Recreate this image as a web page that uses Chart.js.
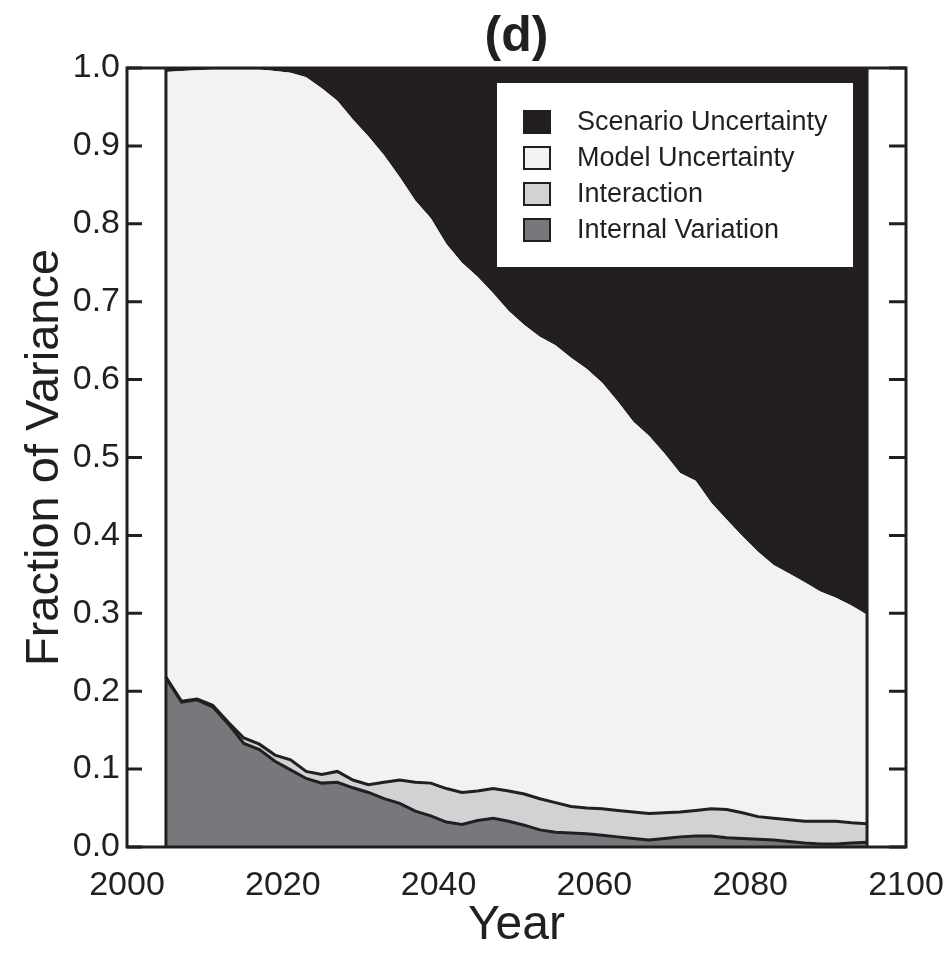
<!DOCTYPE html>
<html>
<head>
<meta charset="utf-8">
<script src="https://cdn.jsdelivr.net/npm/chart.js@4.4.1/dist/chart.umd.min.js"></script>
<style>
  html, body { margin: 0; padding: 0; background: #fff; }
</style>
</head>
<body>
<canvas id="varianceChart" width="949" height="955"></canvas>
<script>
// Years (every 2 years)
const years = [2005, 2007, 2009, 2011, 2013, 2015, 2017, 2019, 2021, 2023,
    2025, 2027, 2029, 2031, 2033, 2035, 2037, 2039, 2041, 2043,
    2045, 2047, 2049, 2051, 2053, 2055, 2057, 2059, 2061, 2063,
    2065, 2067, 2069, 2071, 2073, 2075, 2077, 2079, 2081, 2083,
    2085, 2087, 2089, 2091, 2093, 2095];

// Fraction of variance for each source (stacked bottom to top)
const internalVariation = [0.217, 0.186, 0.189, 0.180, 0.158, 0.133, 0.125, 0.110, 0.099, 0.088,
    0.082, 0.083, 0.076, 0.070, 0.062, 0.056, 0.046, 0.040, 0.032, 0.029,
    0.034, 0.037, 0.033, 0.028, 0.022, 0.019, 0.018, 0.017, 0.015, 0.013,
    0.011, 0.009, 0.011, 0.013, 0.014, 0.014, 0.012, 0.011, 0.010, 0.009,
    0.007, 0.005, 0.004, 0.004, 0.005, 0.006];

const interaction = [0.001, 0.001, 0.001, 0.002, 0.002, 0.007, 0.007, 0.008, 0.013, 0.009,
    0.011, 0.014, 0.010, 0.010, 0.021, 0.030, 0.037, 0.042, 0.043, 0.041,
    0.038, 0.038, 0.039, 0.040, 0.040, 0.038, 0.034, 0.033, 0.034, 0.034,
    0.034, 0.034, 0.033, 0.032, 0.033, 0.035, 0.036, 0.033, 0.029, 0.028,
    0.028, 0.028, 0.029, 0.029, 0.026, 0.024];

const modelUncertainty = [0.777, 0.809, 0.807, 0.816, 0.838, 0.858, 0.866, 0.878, 0.882, 0.891,
    0.881, 0.861, 0.848, 0.832, 0.805, 0.774, 0.747, 0.725, 0.699, 0.680,
    0.660, 0.636, 0.616, 0.602, 0.593, 0.587, 0.576, 0.564, 0.547, 0.525,
    0.501, 0.485, 0.461, 0.435, 0.423, 0.393, 0.372, 0.355, 0.340, 0.325,
    0.316, 0.307, 0.295, 0.287, 0.279, 0.268];

const scenarioUncertainty = [0.005, 0.004, 0.003, 0.002, 0.002, 0.002, 0.002, 0.004, 0.006, 0.012,
    0.026, 0.042, 0.066, 0.088, 0.112, 0.140, 0.170, 0.193, 0.226, 0.250,
    0.268, 0.289, 0.312, 0.330, 0.345, 0.356, 0.372, 0.386, 0.404, 0.428,
    0.454, 0.472, 0.495, 0.520, 0.530, 0.558, 0.580, 0.601, 0.621, 0.638,
    0.649, 0.660, 0.672, 0.680, 0.690, 0.702];

const ink = '#231f20';
const fontFamily = "'Liberation Sans', Arial, Helvetica, sans-serif";

Chart.defaults.font.family = fontFamily;
Chart.defaults.color = ink;

function toPoints(values) {
    return values.map((v, i) => ({ x: years[i], y: v }));
}

// Box, inward ticks, period edges and the legend inside the plot
const framePlugin = {
    id: 'frame',
    afterDatasetsDraw(chart) {
        const { ctx, chartArea: a, scales: { x, y } } = chart;
        ctx.save();
        ctx.strokeStyle = ink;
        ctx.lineWidth = 3;

        [years[0], years[years.length - 1]].forEach(yr => {
            const px = x.getPixelForValue(yr);
            ctx.beginPath();
            ctx.moveTo(px, a.bottom);
            ctx.lineTo(px, a.top);
            ctx.stroke();
        });

        ctx.strokeRect(a.left, a.top, a.right - a.left, a.bottom - a.top);

        y.ticks.forEach(t => {
            const py = y.getPixelForValue(t.value);
            ctx.beginPath();
            ctx.moveTo(a.left, py);
            ctx.lineTo(a.left + 15, py);
            ctx.moveTo(a.right, py);
            ctx.lineTo(a.right - 17, py);
            ctx.stroke();
        });

        // legend
        const boxW = 356, boxH = 184;
        const bx = a.right - 53 - boxW;
        const by = a.top + 15;
        ctx.fillStyle = '#ffffff';
        ctx.fillRect(bx, by, boxW, boxH);

        const items = chart.data.datasets.slice().reverse();
        ctx.font = '27px ' + fontFamily;
        ctx.textBaseline = 'middle';
        ctx.lineWidth = 2;
        items.forEach((ds, i) => {
            const cy = by + 39 + i * 36;
            ctx.fillStyle = ds.backgroundColor;
            ctx.fillRect(bx + 27, cy - 11, 26, 22);
            ctx.strokeStyle = ink;
            ctx.strokeRect(bx + 27, cy - 11, 26, 22);
            ctx.fillStyle = ink;
            ctx.fillText(ds.label, bx + 80, cy + 1);
        });
        ctx.restore();
    }
};

const ctx = document.getElementById('varianceChart').getContext('2d');
const varianceChart = new Chart(ctx, {
    type: 'line',
    data: {
        datasets: [{
            label: 'Internal Variation',
            data: toPoints(internalVariation),
            backgroundColor: '#77787b',
            borderColor: ink,
            borderWidth: 3,
            fill: 'origin'
        }, {
            label: 'Interaction',
            data: toPoints(interaction),
            backgroundColor: '#d1d2d4',
            borderColor: ink,
            borderWidth: 3,
            fill: '-1'
        }, {
            label: 'Model Uncertainty',
            data: toPoints(modelUncertainty),
            backgroundColor: '#f2f2f2',
            borderColor: ink,
            borderWidth: 0,
            fill: '-1'
        }, {
            label: 'Scenario Uncertainty',
            data: toPoints(scenarioUncertainty),
            backgroundColor: ink,
            borderColor: ink,
            borderWidth: 0,
            fill: '-1'
        }]
    },
    options: {
        responsive: false,
        animation: false,
        devicePixelRatio: 1,
        layout: { padding: { right: 43 } },
        elements: { point: { radius: 0 }, line: { tension: 0 } },
        plugins: {
            legend: { display: false },
            tooltip: { enabled: false },
            title: {
                display: true,
                text: '(d)',
                fullSize: false,
                color: ink,
                font: { size: 50, weight: 'bold' },
                padding: { top: 7, bottom: 1 }
            }
        },
        scales: {
            x: {
                type: 'linear',
                min: 2000,
                max: 2100,
                grid: { display: false, drawTicks: false },
                border: { display: false },
                ticks: {
                    stepSize: 20,
                    padding: 18,
                    color: ink,
                    font: { size: 34 },
                    callback: v => String(v)
                },
                title: {
                    display: true,
                    text: 'Year',
                    color: ink,
                    font: { size: 48 },
                    padding: { top: 0, bottom: 0 }
                },
                afterFit: s => {
                    s.height = 108;
                    s.paddingLeft = 0;
                    s.paddingRight = 0;
                }
            },
            y: {
                stacked: true,
                min: 0,
                max: 1,
                grid: { display: false, drawTicks: false },
                border: { display: false },
                ticks: {
                    stepSize: 0.1,
                    padding: 7,
                    color: ink,
                    font: { size: 34 },
                    callback: v => v.toFixed(1)
                },
                title: {
                    display: true,
                    text: 'Fraction of Variance',
                    color: ink,
                    font: { size: 47 },
                    padding: { top: 17, bottom: 0 }
                },
                afterFit: s => { s.width = 127; }
            }
        }
    },
    plugins: [framePlugin]
});
</script>
</body>
</html>
